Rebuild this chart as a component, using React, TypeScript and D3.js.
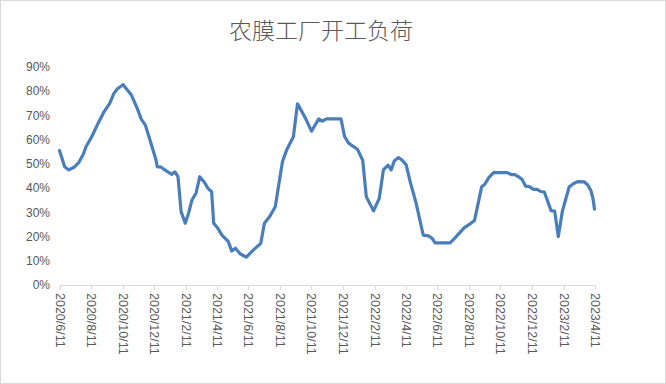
import React from "react";
import * as d3 from "d3";

const TITLE = "农膜工厂开工负荷";

const dates: string[] = [
  "2020-06-11","2020-06-21","2020-06-29","2020-07-09","2020-07-18","2020-07-27","2020-08-01","2020-08-13",
  "2020-08-24","2020-09-05","2020-09-16","2020-09-24","2020-10-01","2020-10-12","2020-10-19","2020-10-28",
  "2020-11-08","2020-11-16","2020-11-24","2020-12-04","2020-12-14","2020-12-17","2020-12-23","2021-01-04",
  "2021-01-14","2021-01-20","2021-01-26","2021-02-01","2021-02-09","2021-02-15","2021-02-22","2021-03-02",
  "2021-03-09","2021-03-18","2021-03-25","2021-04-01","2021-04-05","2021-04-13","2021-04-21","2021-05-03",
  "2021-05-10","2021-05-17","2021-05-26","2021-06-07","2021-06-21","2021-07-05","2021-07-12","2021-07-22",
  "2021-08-02","2021-08-10","2021-08-16","2021-08-24","2021-09-06","2021-09-14","2021-09-29","2021-10-11",
  "2021-10-25","2021-11-01","2021-11-09","2021-12-07","2021-12-14","2021-12-22","2022-01-08","2022-01-18",
  "2022-01-25","2022-02-08","2022-02-19","2022-02-27","2022-03-08","2022-03-14","2022-03-20","2022-03-28",
  "2022-04-04","2022-04-12","2022-04-20","2022-05-01","2022-05-15","2022-05-25","2022-06-01","2022-06-07",
  "2022-07-06","2022-07-14","2022-07-22","2022-08-02","2022-08-12","2022-08-22","2022-09-05","2022-09-11",
  "2022-09-19","2022-09-28","2022-10-24","2022-11-01","2022-11-08","2022-11-17","2022-11-22","2022-11-29",
  "2022-12-06","2022-12-14","2022-12-21","2022-12-28","2023-01-04","2023-01-09","2023-01-17","2023-01-24",
  "2023-01-31","2023-02-08","2023-02-14","2023-02-21","2023-03-01","2023-03-09","2023-03-22","2023-03-29",
  "2023-04-04","2023-04-08","2023-04-11"
];

const loadRate: number[] = [
  55.5, 48.8, 47.5, 48.6, 50.5, 54.0, 57.0, 61.5,
  66.5, 71.5, 75.0, 79.0, 81.0, 82.7, 80.8, 78.4,
  73.0, 68.5, 66.0, 59.0, 52.0, 48.8, 48.8, 47.0,
  45.7, 46.7, 44.7, 30.3, 25.5, 29.3, 35.1, 38.0,
  44.7, 42.4, 39.9, 38.5, 25.5, 23.4, 20.6, 18.0,
  14.0, 15.2, 12.9, 11.5, 14.5, 17.2, 25.5, 28.2,
  32.3, 43.0, 51.0, 55.7, 61.2, 74.8, 69.0, 63.5,
  68.6, 67.7, 68.6, 68.6, 61.3, 58.5, 56.0, 51.5,
  36.4, 30.6, 35.8, 47.5, 49.5, 47.5, 51.2, 52.6,
  51.6, 49.6, 42.4, 34.0, 20.6, 20.3, 19.3, 17.4,
  17.4, 19.1, 21.0, 23.6, 25.0, 26.6, 40.6, 41.6,
  44.4, 46.4, 46.4, 45.6, 45.6, 44.4, 43.6, 40.8,
  40.6, 39.5, 39.5, 38.6, 38.4, 35.5, 30.7, 30.5,
  20.0, 30.6, 35.1, 40.5, 41.8, 42.7, 42.6, 41.3,
  39.0, 35.8, 31.3
];

const xTickLabels: string[] = [
  "2020/6/11","2020/8/11","2020/10/11","2020/12/11","2021/2/11","2021/4/11",
  "2021/6/11","2021/8/11","2021/10/11","2021/12/11","2022/2/11","2022/4/11",
  "2022/6/11","2022/8/11","2022/10/11","2022/12/11","2023/2/11","2023/4/11"
];

const yTicks: number[] = [0, 10, 20, 30, 40, 50, 60, 70, 80, 90];

const W = 666;
const H = 384;

export default function App() {
  const parse = d3.timeParse("%Y-%m-%d");
  const parseTick = d3.timeParse("%Y/%m/%d");
  const data = dates.map((d, i) => ({ date: parse(d) as Date, v: loadRate[i] }));
  const tickDates = xTickLabels.map((t) => parseTick(t) as Date);

  const x = d3
    .scaleTime()
    .domain([tickDates[0], tickDates[tickDates.length - 1]])
    .range([59.5, 594.5]);
  const y = d3.scaleLinear().domain([0, 90]).range([285, 67]);

  const line = d3
    .line<{ date: Date; v: number }>()
    .x((d) => x(d.date))
    .y((d) => y(d.v));

  const font = "'Liberation Sans', Arial, sans-serif";
  const grey = "#595959";

  return (
    <div style={{ position: "absolute", left: 0, top: 0 }}>
      <svg width={W} height={H} style={{ display: "block" }}>
        <rect x={0} y={0} width={W} height={H} fill="#fff" />
        <rect x={0.5} y={0.5} width={W - 1} height={H - 1} fill="none" stroke="#d9d9d9" />
        <text
          x={321}
          y={39}
          textAnchor="middle"
          fontFamily="'Noto Sans CJK SC', sans-serif"
          fontWeight={300}
          fontSize={23}
          fill={grey}
        >
          {TITLE}
        </text>
        {yTicks.map((t) => (
          <text
            key={t}
            x={50}
            y={y(t)}
            dy="0.35em"
            textAnchor="end"
            fontFamily={font}
            fontSize={12}
            fill={grey}
          >
            {t + "%"}
          </text>
        ))}
        <line x1={x.range()[0]} x2={x.range()[1]} y1={285.5} y2={285.5} stroke="#d9d9d9" strokeWidth={1} />
        {tickDates.map((d, i) => (
          <g key={i} transform={`translate(${Math.round(x(d)) + 0.5},285)`}>
            <line y1={0} y2={5} stroke="#d9d9d9" />
            <text
              transform="translate(0,8) rotate(90)"
              dy="0.35em"
              textAnchor="start"
              fontFamily={font}
              fontSize={12.5}
              fill={grey}
            >
              {xTickLabels[i]}
            </text>
          </g>
        ))}
        <path
          d={line(data) || ""}
          fill="none"
          stroke="#4a7ebb"
          strokeWidth={3.2}
          strokeLinejoin="round"
          strokeLinecap="round"
        />
      </svg>
    </div>
  );
}
